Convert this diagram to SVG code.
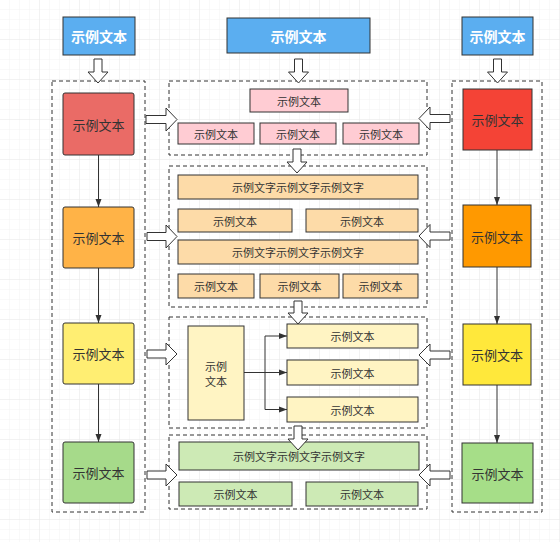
<svg xmlns="http://www.w3.org/2000/svg" width="560" height="542" viewBox="0 0 560 542">
<style>
text{font-family:"Noto Sans CJK SC","Liberation Sans",sans-serif;text-anchor:middle;dominant-baseline:central;fill:#333}
.hd{font-size:14px;font-weight:bold;fill:#fff}
.big{font-size:13px}
.sm{font-size:11px}
.box{stroke:#333;stroke-width:1}
.dash{fill:none;stroke:#333;stroke-width:1;stroke-dasharray:4 3}
.ha{fill:#fff;stroke:#333;stroke-width:1}
.ln{fill:none;stroke:#333;stroke-width:1}
</style>
<defs>
<pattern id="g" width="10" height="10" patternUnits="userSpaceOnUse">
<path d="M10 0V10H0" fill="none" stroke="#f3f3f3" stroke-width="1"/>
</pattern>
<pattern id="G" width="40" height="40" patternUnits="userSpaceOnUse">
<rect width="40" height="40" fill="url(#g)"/>
<path d="M40 0V40H0" fill="none" stroke="#ebebeb" stroke-width="1"/>
</pattern>
<marker id="ar" viewBox="0 0 8 8" refX="8" refY="4" markerWidth="8" markerHeight="8" markerUnits="userSpaceOnUse" orient="auto">
<path d="M0 1L8 4L0 7Z" fill="#333"/>
</marker>
</defs>
<rect width="560" height="542" fill="#fff"/>
<rect width="560" height="542" fill="url(#G)"/>

<g id="containers">
<rect class="dash" x="52" y="81" width="93" height="431"/>
<rect class="dash" x="452" y="81" width="90" height="431"/>
<rect class="dash" x="169" y="81" width="258" height="74"/>
<rect class="dash" x="169" y="166" width="258" height="141"/>
<rect class="dash" x="169" y="317" width="258" height="111"/>
<rect class="dash" x="169" y="435" width="258" height="74"/>
</g>

<g id="headers">
<g id="h1"><rect class="box" x="63" y="17" width="72" height="38" fill="#5BAEF0"/><text class="hd" x="99" y="36">示例文本</text></g>
<g id="h2"><rect class="box" x="227" y="18" width="143" height="35" fill="#5BAEF0"/><text class="hd" x="298.5" y="35.5">示例文本</text></g>
<g id="h3"><rect class="box" x="462" y="17" width="71" height="38" fill="#5BAEF0"/><text class="hd" x="497.5" y="36">示例文本</text></g>
</g>

<g id="left">
<g id="l1"><rect class="box" x="63" y="93" width="71" height="62" rx="2" fill="#EA6B66"/><text class="big" x="98.5" y="124">示例文本</text></g>
<g id="l2"><rect class="box" x="63" y="207" width="71" height="61" rx="2" fill="#FFB347"/><text class="big" x="98.5" y="237.5">示例文本</text></g>
<g id="l3"><rect class="box" x="63" y="323" width="71" height="61" rx="2" fill="#FFEE72"/><text class="big" x="98.5" y="353.5">示例文本</text></g>
<g id="l4"><rect class="box" x="63" y="442" width="71" height="61" rx="2" fill="#A6DA8A"/><text class="big" x="98.5" y="472.5">示例文本</text></g>
</g>

<g id="right">
<g id="r1"><rect class="box" x="463" y="89" width="69" height="61" fill="#F44336"/><text class="big" x="497.5" y="119.5">示例文本</text></g>
<g id="r2"><rect class="box" x="463" y="205" width="68" height="62" fill="#FF9900"/><text class="big" x="497" y="236">示例文本</text></g>
<g id="r3"><rect class="box" x="463" y="324" width="68" height="61" fill="#FFE83B"/><text class="big" x="497" y="354.5">示例文本</text></g>
<g id="r4"><rect class="box" x="462" y="443" width="71" height="60" fill="#A6DE88"/><text class="big" x="497.5" y="473">示例文本</text></g>
</g>

<g id="sec1">
<g id="p1"><rect class="box" x="250" y="89" width="98" height="23" fill="#FFCCD3"/><text class="sm" x="299" y="100.5">示例文本</text></g>
<g id="p2"><rect class="box" x="178" y="123" width="76" height="21" fill="#FFCCD3"/><text class="sm" x="216" y="133.5">示例文本</text></g>
<g id="p3"><rect class="box" x="260" y="123" width="76" height="21" fill="#FFCCD3"/><text class="sm" x="298" y="133.5">示例文本</text></g>
<g id="p4"><rect class="box" x="343" y="123" width="76" height="21" fill="#FFCCD3"/><text class="sm" x="381" y="133.5">示例文本</text></g>
</g>

<g id="sec2">
<g id="o1"><rect class="box" x="178" y="175" width="240" height="24" fill="#FDDBA8"/><text class="sm" x="298" y="187">示例文字示例文字示例文字</text></g>
<g id="o2"><rect class="box" x="178" y="209" width="114" height="23" fill="#FDDBA8"/><text class="sm" x="235" y="220.5">示例文本</text></g>
<g id="o3"><rect class="box" x="306" y="209" width="112" height="23" fill="#FDDBA8"/><text class="sm" x="362" y="220.5">示例文本</text></g>
<g id="o4"><rect class="box" x="178" y="240" width="240" height="24" fill="#FDDBA8"/><text class="sm" x="298" y="252">示例文字示例文字示例文字</text></g>
<g id="o5"><rect class="box" x="178" y="274" width="76" height="24" fill="#FDDBA8"/><text class="sm" x="216" y="286">示例文本</text></g>
<g id="o6"><rect class="box" x="260" y="274" width="79" height="24" fill="#FDDBA8"/><text class="sm" x="299.5" y="286">示例文本</text></g>
<g id="o7"><rect class="box" x="343" y="274" width="75" height="24" fill="#FDDBA8"/><text class="sm" x="380.5" y="286">示例文本</text></g>
</g>

<g id="sec3">
<g id="y0"><rect class="box" x="188" y="326" width="56" height="94" fill="#FFF4C3"/><text class="sm" x="216" y="366">示例</text><text class="sm" x="216" y="380.5">文本</text></g>
<g id="y1"><rect class="box" x="287" y="324" width="131" height="24" fill="#FFF4C3"/><text class="sm" x="352.5" y="336">示例文本</text></g>
<g id="y2"><rect class="box" x="287" y="360" width="131" height="25" fill="#FFF4C3"/><text class="sm" x="352.5" y="372.5">示例文本</text></g>
<g id="y3"><rect class="box" x="287" y="397" width="131" height="25" fill="#FFF4C3"/><text class="sm" x="352.5" y="409.5">示例文本</text></g>
</g>

<g id="sec4">
<g id="gr1"><rect class="box" x="179" y="442" width="240" height="28" fill="#CDEAB5"/><text class="sm" x="299" y="456">示例文字示例文字示例文字</text></g>
<g id="gr2"><rect class="box" x="179" y="482" width="113" height="24" fill="#CDEAB5"/><text class="sm" x="235.5" y="494">示例文本</text></g>
<g id="gr3"><rect class="box" x="306" y="482" width="112" height="24" fill="#CDEAB5"/><text class="sm" x="362" y="494">示例文本</text></g>
</g>

<g id="connectors">
<path class="ln" d="M98.5 155V207" marker-end="url(#ar)"/>
<path class="ln" d="M98.5 268V323" marker-end="url(#ar)"/>
<path class="ln" d="M98.5 384V442" marker-end="url(#ar)"/>
<path class="ln" d="M497 150V205" marker-end="url(#ar)"/>
<path class="ln" d="M497 267V324" marker-end="url(#ar)"/>
<path class="ln" d="M497 385V443" marker-end="url(#ar)"/>
<path class="ln" d="M244 372.5H265"/>
<path class="ln" d="M265 336V409.5"/>
<path class="ln" d="M265 336H287" marker-end="url(#ar)"/>
<path class="ln" d="M265 372.5H287" marker-end="url(#ar)"/>
<path class="ln" d="M265 409.5H287" marker-end="url(#ar)"/>
<path class="ha" d="M94 59H102V72H108L98 83L88 72H94Z"/>
<path class="ha" d="M294.5 59H302.5V72H308.5L298.5 83L288.5 72H294.5Z"/>
<path class="ha" d="M493.5 59H501.5V72H507.5L497.5 83L487.5 72H493.5Z"/>
<path class="ha" d="M293 149H301V162H307L297 173L287 162H293Z"/>
<path class="ha" d="M294 301H302V313H308L298 324L288 313H294Z"/>
<path class="ha" d="M294 426H302V439H308L298 450L288 439H294Z"/>
<path class="ha" d="M146 115.5H166V108L177 119.5L166 131V123.5H146Z"/>
<path class="ha" d="M147 232.5H166V225L177 236.5L166 248V240.5H147Z"/>
<path class="ha" d="M147 350H166V343L177 354L166 365V358H147Z"/>
<path class="ha" d="M147 471H166V464L177 475L166 486V479H147Z"/>
<path class="ha" d="M450 114.5H430V107L419 118.5L430 130V122.5H450Z"/>
<path class="ha" d="M450 232H430V224.5L419 236L430 247.5V240H450Z"/>
<path class="ha" d="M450 351H430V344L419 355L430 366V359H450Z"/>
<path class="ha" d="M450 471H430V464L419 475L430 486V479H450Z"/>
</g>
</svg>
